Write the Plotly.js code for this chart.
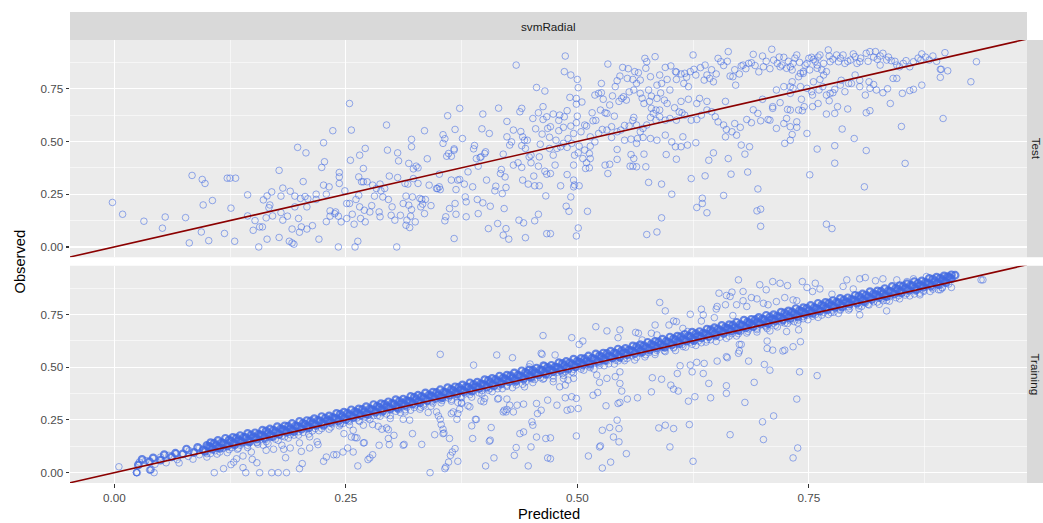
<!DOCTYPE html>
<html><head><meta charset="utf-8">
<script src="https://cdn.plot.ly/plotly-3.0.1.min.js"></script>
<style>html,body{margin:0;padding:0;background:#fff}#chart{width:1043px;height:523px}</style>
</head><body><div id="chart"></div>
<script>
// ---------- DATA ----------
const facetTitle = 'svmRadial';
const panelLabels = ['Test', 'Training'];
const xTitle = 'Predicted';
const yTitle = 'Observed';

// Test panel: predicted / observed
const testPred = [
-0.002,0.009,0.032,0.052,0.055,0.077,0.081,0.084,0.095,0.098,
0.094,0.096,0.102,0.106,0.119,0.122,0.125,0.131,0.126,0.130,
0.144,0.144,0.150,0.152,0.156,0.157,0.160,0.161,0.165,0.164,
0.165,0.168,0.167,0.170,0.171,0.178,0.178,0.180,0.180,0.182,
0.182,0.187,0.189,0.192,0.194,0.190,0.192,0.195,0.195,0.198,
0.199,0.200,0.202,0.204,0.207,0.206,0.208,0.208,0.201,0.209,
0.214,0.221,0.218,0.218,0.226,0.227,0.224,0.226,0.229,0.229,
0.232,0.233,0.233,0.236,0.238,0.239,0.242,0.243,0.243,0.243,
0.242,0.245,0.249,0.251,0.251,0.254,0.254,0.255,0.256,0.257,
0.259,0.260,0.261,0.263,0.264,0.265,0.264,0.265,0.266,0.267,
0.269,0.269,0.270,0.271,0.271,0.273,0.276,0.278,0.279,0.281,
0.283,0.286,0.287,0.287,0.288,0.290,0.292,0.294,0.295,0.296,
0.297,0.299,0.300,0.303,0.305,0.306,0.306,0.307,0.309,0.312,
0.314,0.315,0.315,0.316,0.317,0.318,0.318,0.319,0.320,0.321,
0.321,0.321,0.322,0.323,0.323,0.325,0.326,0.328,0.328,0.330,
0.331,0.332,0.333,0.335,0.335,0.336,0.338,0.340,0.342,0.348,
0.349,0.351,0.351,0.352,0.355,0.355,0.357,0.357,0.358,0.359,
0.360,0.361,0.362,0.364,0.364,0.367,0.367,0.368,0.367,0.368,
0.369,0.369,0.371,0.373,0.373,0.376,0.378,0.379,0.380,0.380,
0.382,0.387,0.388,0.389,0.391,0.393,0.392,0.393,0.395,0.396,
0.397,0.398,0.398,0.400,0.401,0.402,0.404,0.405,0.406,0.411,
0.412,0.414,0.415,0.417,0.418,0.419,0.420,0.421,0.422,0.423,
0.423,0.424,0.424,0.426,0.427,0.429,0.431,0.431,0.434,0.436,
0.437,0.438,0.439,0.440,0.440,0.441,0.441,0.442,0.443,0.444,
0.444,0.446,0.447,0.448,0.450,0.450,0.452,0.453,0.454,0.454,
0.456,0.458,0.458,0.458,0.459,0.459,0.460,0.462,0.463,0.463,
0.465,0.465,0.466,0.467,0.467,0.467,0.468,0.470,
0.487,0.486,0.493,0.500,0.501,0.492,0.499,0.499,0.505,0.489,
0.486,0.474,0.481,0.471,0.477,0.490,0.493,0.499,0.504,0.508,
0.510,0.516,0.517,0.519,0.523,0.526,0.526,0.530,0.532,0.533,
0.535,0.537,0.541,0.543,0.549,0.555,0.550,0.548,0.553,0.560,
0.564,0.566,0.561,0.568,0.572,0.577,0.574,0.575,0.584,0.580,
0.585,0.589,0.573,0.579,0.586,0.591,0.595,0.597,0.607,0.607,
0.612,0.616,0.622,0.626,0.625,0.638,0.637,0.640,0.643,0.647,
0.652,0.655,0.663,0.665,0.668,0.671,0.677,0.679,0.685,0.688,
0.690,0.700,0.701,0.710,0.712,0.719,0.721,0.723,0.726,0.730,
0.730,0.723,0.715,0.711,0.719,0.727,0.708,0.715,0.723,0.726,
0.695,0.698,0.688,0.683,0.676,0.670,0.667,0.660,0.661,0.658,
0.652,0.649,0.645,0.640,0.634,0.629,0.623,0.616,0.613,0.607,
0.600,0.595,0.589,0.582,0.579,0.575,0.571,0.568,0.564,0.561,
0.556,0.551,0.547,0.543,0.537,0.532,0.527,0.523,0.519,0.514,
0.513,0.514,0.510,0.509,0.513,0.506,0.501,0.497,0.496,0.494,
0.489,0.485,0.482,0.478,0.474,0.476,0.471,0.489,0.496,0.497,
0.502,0.496,0.482,0.493,0.488,0.491,0.511,0.501,0.499,0.471,
0.533,0.530,0.535,0.543,0.543,0.551,0.558,0.564,0.558,0.560,
0.557,0.561,0.572,0.574,0.577,0.591,0.596,0.602,0.591,0.575,
0.586,0.564,0.565,0.571,0.579,0.586,0.595,0.602,0.606,0.612,
0.614,0.607,0.619,0.623,0.628,0.629,0.635,0.635,0.638,0.640,
0.642,0.647,0.658,0.663,0.666,0.672,0.677,0.681,0.684,0.686,
0.695,0.694,0.698,0.698,0.706,0.711,0.730,0.730,0.724,0.632,
0.629,0.620,0.615,0.600,0.594,0.586,0.580,0.589,0.601,0.606,
0.568,0.562,0.554,0.546,0.525,0.514,0.508,0.502,0.496,0.485,
0.480,
0.737,0.733,0.732,0.741,0.744,0.746,0.750,0.753,0.755,0.759,
0.762,0.764,0.769,0.771,0.772,0.773,0.780,0.782,0.787,0.789,
0.795,0.800,0.802,0.805,0.812,0.816,0.822,0.824,0.827,0.830,
0.834,0.839,0.845,0.848,0.855,0.859,0.863,0.871,0.872,0.880,
0.884,0.897,0.931,0.892,0.900,0.893,0.892,0.925,0.872,0.863,
0.859,0.851,0.845,0.841,0.838,0.830,0.823,0.816,0.815,0.811,
0.805,0.800,0.796,0.793,0.789,0.784,0.778,0.776,0.773,0.769,
0.761,0.753,0.748,0.741,0.733,0.730,0.732,0.739,0.744,0.755,
0.762,0.766,0.759,0.751,0.730,0.739,0.745,0.743,0.754,0.760,
0.769,0.772,0.778,0.781,0.792,0.812,0.816,0.737,0.737,0.732,
0.748,0.786,0.799,0.850,0.895,0.759,0.778,0.812,0.778,0.854,
0.751,0.810,0.769,0.775,
0.528,0.538,0.545,0.556,0.570,0.578,0.590,0.597,0.605,0.612,
0.618,0.628,0.633,0.645,0.650,0.658,0.662,0.670,0.675,0.682,
0.692,0.696,0.704,0.708,0.716,0.718,0.728,0.735,0.740,0.748,
0.757,0.760,0.766,0.776,0.784,0.792,0.798,0.806,0.814,0.820,
0.827,0.836,0.843,0.852,0.868,0.876,0.888,0.765,0.785,0.805,
0.820,0.835,0.754,0.742,0.700,0.690,0.660,0.640,0.620,0.610,
0.585,0.560,0.540,0.520,0.500,0.480,0.470,0.455,0.440,0.420
];
const testObs = [
0.211,0.155,0.122,0.089,0.142,0.139,0.019,0.339,0.320,0.301,
0.071,0.199,0.030,0.220,0.064,0.326,0.326,0.326,0.184,0.027,
0.247,0.147,0.079,0.125,0.000,0.095,0.095,0.223,0.242,0.138,
0.037,0.199,0.186,0.261,0.147,0.363,0.045,0.241,0.163,0.279,
0.127,0.146,0.027,0.019,0.013,0.264,0.085,0.241,0.190,0.472,
0.135,0.070,0.095,0.310,0.446,0.239,0.190,0.085,0.230,0.228,
0.101,0.037,0.250,0.225,0.494,0.404,0.377,0.293,0.250,0.120,
0.285,0.171,0.146,0.551,0.158,0.166,0.146,0.332,0.353,0.301,
0.000,0.119,0.266,0.135,0.206,0.680,0.206,0.411,0.554,0.155,
0.108,0.000,0.225,0.027,0.332,0.435,0.245,0.190,0.135,0.309,
0.372,0.309,0.174,0.119,0.467,0.309,0.166,0.196,0.293,0.241,
0.277,0.166,0.143,0.298,0.266,0.237,0.277,0.578,0.459,0.225,
0.336,0.150,0.190,0.127,0.000,0.329,0.446,0.408,0.150,0.206,
0.301,0.241,0.103,0.127,0.298,0.396,0.198,0.092,0.146,0.510,
0.475,0.177,0.237,0.370,0.324,0.119,0.383,0.375,0.301,0.230,
0.190,0.225,0.203,0.158,0.551,0.225,0.418,0.293,0.196,0.277,
0.277,0.345,0.285,0.272,0.532,0.491,0.513,0.124,0.143,0.430,
0.622,0.443,0.182,0.317,0.430,0.459,0.465,0.557,0.040,0.206,
0.155,0.272,0.317,0.657,0.320,0.514,0.298,0.237,0.214,0.143,
0.356,0.285,0.465,0.481,0.419,0.383,0.225,0.158,0.424,0.427,
0.560,0.630,0.209,0.443,0.451,0.317,0.087,0.538,0.193,0.266,
0.288,0.111,0.658,0.348,0.367,0.253,0.056,0.182,0.332,0.282,
0.087,0.595,0.522,0.037,0.483,0.498,0.554,0.388,0.862,0.399,
0.127,0.641,0.547,0.657,0.377,0.317,0.522,0.114,0.506,0.467,
0.044,0.506,0.298,0.427,0.399,0.435,0.609,0.336,0.290,0.124,
0.756,0.383,0.155,0.636,0.290,0.427,0.487,0.535,0.604,0.665,
0.739,0.359,0.242,0.617,0.345,0.063,0.562,0.467,
0.905,0.831,0.815,0.794,0.755,0.709,0.704,0.677,0.687,0.646,
0.617,0.630,0.625,0.570,0.506,0.514,0.573,0.589,0.546,0.578,
0.573,0.636,0.598,0.720,0.728,0.731,0.775,0.636,0.633,0.867,
0.673,0.570,0.760,0.788,0.851,0.845,0.712,0.704,0.696,0.794,
0.775,0.826,0.744,0.728,0.680,0.744,0.847,0.878,0.902,0.657,
0.649,0.617,0.894,0.807,0.767,0.775,0.851,0.794,0.829,0.794,
0.820,0.823,0.831,0.842,0.910,0.862,0.791,0.815,0.799,0.783,
0.894,0.878,0.926,0.810,0.807,0.767,0.858,0.862,0.870,0.873,
0.913,0.905,0.854,0.937,0.886,0.854,0.862,0.899,0.847,0.854,
0.760,0.760,0.744,0.657,0.684,0.652,0.601,0.562,0.585,0.609,
0.633,0.598,0.589,0.604,0.567,0.585,0.546,0.522,0.557,0.578,
0.593,0.617,0.641,0.649,0.625,0.604,0.601,0.625,0.636,0.601,
0.609,0.601,0.649,0.633,0.614,0.578,0.562,0.546,0.578,0.614,
0.573,0.576,0.554,0.546,0.519,0.554,0.557,0.538,0.498,0.478,
0.443,0.419,0.399,0.372,0.375,0.419,0.446,0.435,0.388,0.491,
0.472,0.491,0.475,0.467,0.435,0.388,0.348,0.343,0.317,0.294,
0.290,0.285,0.290,0.237,0.193,0.169,0.169,0.090,0.052,0.063,
0.348,0.388,0.392,0.415,0.462,0.506,0.511,0.491,0.438,0.383,
0.383,0.419,0.440,0.380,0.306,0.298,0.438,0.250,0.138,0.059,
0.071,0.380,0.514,0.519,0.514,0.506,0.530,0.498,0.475,0.475,
0.522,0.416,0.483,0.324,0.494,0.187,0.206,0.231,0.337,0.162,
0.411,0.446,0.244,0.419,0.345,0.530,0.483,0.440,0.355,0.475,
0.275,0.171,0.179,0.098,0.604,0.665,0.570,0.506,0.491,0.704,
0.680,0.760,0.775,0.744,0.696,0.704,0.715,0.815,0.858,0.831,
0.791,0.831,0.799,0.810,0.649,0.522,0.459,0.478,0.538,0.567,
0.551,
0.910,0.870,0.839,0.823,0.831,0.862,0.894,0.899,0.889,0.862,
0.910,0.839,0.831,0.934,0.905,0.878,0.910,0.878,0.910,0.870,
0.886,0.902,0.870,0.878,0.918,0.926,0.926,0.889,0.862,0.918,
0.886,0.883,0.862,0.854,0.883,0.854,0.878,0.886,0.915,0.886,
0.905,0.921,0.878,0.842,0.835,0.842,0.804,0.783,0.767,0.747,
0.741,0.728,0.799,0.799,0.680,0.731,0.744,0.752,0.783,0.720,
0.760,0.815,0.775,0.775,0.736,0.767,0.747,0.731,0.728,0.720,
0.744,0.736,0.752,0.760,0.752,0.728,0.783,0.807,0.823,0.783,
0.794,0.815,0.847,0.839,0.649,0.649,0.665,0.646,0.665,0.680,
0.630,0.693,0.633,0.665,0.654,0.636,0.646,0.593,0.567,0.533,
0.538,0.559,0.514,0.571,0.609,0.464,0.480,0.457,0.397,0.396,
0.342,0.285,0.108,0.087,
0.700,0.716,0.690,0.735,0.705,0.690,0.730,0.680,0.660,0.690,
0.805,0.815,0.850,0.840,0.820,0.860,0.880,0.840,0.820,0.845,
0.860,0.830,0.880,0.845,0.870,0.900,0.880,0.895,0.875,0.870,
0.880,0.900,0.870,0.890,0.895,0.880,0.915,0.895,0.880,0.900,
0.905,0.900,0.880,0.870,0.895,0.900,0.880,0.760,0.790,0.790,
0.770,0.750,0.720,0.700,0.700,0.650,0.690,0.690,0.700,0.640,
0.600,0.600,0.620,0.600,0.620,0.600,0.520,0.560,0.480,0.440
];

// Training panel: heavily over-plotted band just above / on the diagonal (layers A, B, E, F, G)
const bandAPred = [
0.030,0.042,0.054,0.066,0.078,0.090,0.100,0.108,0.116,0.124,
0.132,0.140,0.148,0.156,0.164,0.172,0.180,0.188,0.196,0.204,
0.212,0.220,0.228,0.236,0.244,0.252,0.260,0.268,0.276,0.284,
0.292,0.300,0.308,0.316,0.324,0.332,0.340,0.348,0.356,0.364,
0.372,0.380,0.388,0.396,0.404,0.412,0.420,0.428,0.436,0.444,
0.452,0.460,0.468,0.476,0.484,0.492,0.500,0.508,0.516,0.524,
0.532,0.540,0.548,0.556,0.564,0.572,0.580,0.588,0.596,0.604,
0.612,0.620,0.628,0.636,0.644,0.652,0.660,0.668,0.676,0.684,
0.692,0.700,0.708,0.716,0.724,0.732,0.740,0.748,0.756,0.764,
0.772,0.780,0.788,0.796,0.804,0.812,0.820,0.828,0.836,0.844,
0.852,0.860,0.868,0.876,0.884,0.892,0.900,0.908];
const bandAObs = [
0.063,0.070,0.085,0.092,0.112,0.120,0.129,0.140,0.143,0.155,
0.165,0.168,0.179,0.182,0.198,0.202,0.209,0.220,0.223,0.235,
0.245,0.248,0.259,0.262,0.278,0.282,0.289,0.300,0.303,0.315,
0.325,0.328,0.339,0.342,0.358,0.362,0.369,0.380,0.383,0.395,
0.405,0.408,0.419,0.422,0.438,0.442,0.449,0.460,0.463,0.475,
0.485,0.488,0.499,0.502,0.518,0.522,0.529,0.540,0.543,0.555,
0.565,0.568,0.579,0.582,0.598,0.602,0.609,0.620,0.623,0.635,
0.645,0.648,0.659,0.662,0.678,0.682,0.689,0.700,0.703,0.715,
0.725,0.728,0.739,0.742,0.758,0.762,0.769,0.780,0.783,0.795,
0.805,0.808,0.819,0.822,0.838,0.842,0.849,0.860,0.863,0.875,
0.885,0.888,0.899,0.902,0.918,0.922,0.929,0.936];
const bandBPred = [
0.026,0.038,0.050,0.062,0.074,0.086,0.096,0.104,0.112,0.120,
0.128,0.136,0.144,0.152,0.160,0.168,0.176,0.184,0.192,0.200,
0.208,0.216,0.224,0.232,0.240,0.248,0.256,0.264,0.272,0.280,
0.288,0.296,0.304,0.312,0.320,0.328,0.336,0.344,0.352,0.360,
0.368,0.376,0.384,0.392,0.400,0.408,0.416,0.424,0.432,0.440,
0.448,0.456,0.464,0.472,0.480,0.488,0.496,0.504,0.512,0.520,
0.528,0.536,0.544,0.552,0.560,0.568,0.576,0.584,0.592,0.600,
0.608,0.616,0.624,0.632,0.640,0.648,0.656,0.664,0.672,0.680,
0.688,0.696,0.704,0.712,0.720,0.728,0.736,0.744,0.752,0.760,
0.768,0.776,0.784,0.792,0.800,0.808,0.816,0.824,0.832,0.840,
0.848,0.856,0.864,0.872,0.880,0.888,0.896,0.904];
const bandBObs = [
0.037,0.052,0.059,0.075,0.089,0.096,0.108,0.120,0.120,0.133,
0.139,0.150,0.153,0.167,0.175,0.178,0.188,0.200,0.200,0.213,
0.219,0.230,0.233,0.247,0.255,0.258,0.268,0.280,0.280,0.293,
0.299,0.310,0.313,0.327,0.335,0.338,0.348,0.360,0.360,0.373,
0.379,0.390,0.393,0.407,0.415,0.418,0.428,0.440,0.440,0.453,
0.459,0.470,0.473,0.487,0.495,0.498,0.508,0.520,0.520,0.533,
0.539,0.550,0.553,0.567,0.575,0.578,0.588,0.600,0.600,0.613,
0.619,0.630,0.633,0.647,0.655,0.658,0.668,0.680,0.680,0.693,
0.699,0.710,0.713,0.727,0.735,0.738,0.748,0.760,0.760,0.773,
0.779,0.790,0.793,0.807,0.815,0.818,0.828,0.840,0.840,0.853,
0.859,0.870,0.873,0.887,0.895,0.898,0.908,0.920];
const bandEPred = [
0.104,0.112,0.120,0.128,0.136,0.144,0.152,0.160,0.168,0.176,
0.184,0.192,0.200,0.208,0.216,0.224,0.232,0.240,0.248,0.256,
0.264,0.272,0.280,0.288,0.296,0.304,0.312,0.320,0.328,0.336,
0.344,0.352,0.360,0.368,0.376,0.384,0.392,0.400,0.408,0.416,
0.424,0.432,0.440,0.448,0.456,0.464,0.472,0.480,0.488,0.496,
0.504,0.512,0.520,0.528,0.536,0.544,0.552,0.560,0.568,0.576,
0.584,0.592,0.600,0.608,0.616,0.624,0.632,0.640,0.648,0.656,
0.664,0.672,0.680,0.688,0.696,0.704,0.712,0.720,0.728,0.736,
0.744,0.752,0.760,0.768,0.776,0.784,0.792,0.800,0.808,0.816,
0.824,0.832,0.840,0.848,0.856,0.864,0.872,0.880,0.888,0.896,
0.904];
const bandEObs = [
0.142,0.153,0.163,0.167,0.176,0.186,0.189,0.201,0.207,0.218,
0.222,0.233,0.243,0.247,0.256,0.266,0.269,0.281,0.287,0.298,
0.302,0.313,0.323,0.327,0.336,0.346,0.349,0.361,0.367,0.378,
0.382,0.393,0.403,0.407,0.416,0.426,0.429,0.441,0.447,0.458,
0.462,0.473,0.483,0.487,0.496,0.506,0.509,0.521,0.527,0.538,
0.542,0.553,0.563,0.567,0.576,0.586,0.589,0.601,0.607,0.618,
0.622,0.633,0.643,0.647,0.656,0.666,0.669,0.681,0.687,0.698,
0.702,0.713,0.723,0.727,0.736,0.746,0.749,0.761,0.767,0.778,
0.782,0.793,0.803,0.807,0.816,0.826,0.829,0.841,0.847,0.858,
0.862,0.873,0.883,0.887,0.896,0.906,0.909,0.921,0.927,0.933,
0.938];
const bandFPred = [
0.102,0.110,0.118,0.126,0.134,0.142,0.150,0.158,0.166,0.174,
0.182,0.190,0.198,0.206,0.214,0.222,0.230,0.238,0.246,0.254,
0.262,0.270,0.278,0.286,0.294,0.302,0.310,0.318,0.326,0.334,
0.342,0.350,0.358,0.366,0.374,0.382,0.390,0.398,0.406,0.414,
0.422,0.430,0.438,0.446,0.454,0.462,0.470,0.478,0.486,0.494,
0.502,0.510,0.518,0.526,0.534,0.542,0.550,0.558,0.566,0.574,
0.582,0.590,0.598,0.606,0.614,0.622,0.630,0.638,0.646,0.654,
0.662,0.670,0.678,0.686,0.694,0.702,0.710,0.718,0.726,0.734,
0.742,0.750,0.758,0.766,0.774,0.782,0.790,0.798,0.806,0.814,
0.822,0.830,0.838,0.846,0.854,0.862,0.870,0.878,0.886,0.894,
0.902];
const bandFObs = [
0.124,0.129,0.139,0.149,0.154,0.166,0.168,0.179,0.188,0.194,
0.204,0.209,0.219,0.229,0.234,0.246,0.248,0.259,0.268,0.274,
0.284,0.289,0.299,0.309,0.314,0.326,0.328,0.339,0.348,0.354,
0.364,0.369,0.379,0.389,0.394,0.406,0.408,0.419,0.428,0.434,
0.444,0.449,0.459,0.469,0.474,0.486,0.488,0.499,0.508,0.514,
0.524,0.529,0.539,0.549,0.554,0.566,0.568,0.579,0.588,0.594,
0.604,0.609,0.619,0.629,0.634,0.646,0.648,0.659,0.668,0.674,
0.684,0.689,0.699,0.709,0.714,0.726,0.728,0.739,0.748,0.754,
0.764,0.769,0.779,0.789,0.794,0.806,0.808,0.819,0.828,0.834,
0.844,0.849,0.859,0.869,0.874,0.886,0.888,0.899,0.908,0.914,
0.924];
const bandGPred = [
0.098,0.106,0.114,0.122,0.130,0.138,0.146,0.154,0.162,0.170,
0.178,0.186,0.194,0.202,0.210,0.218,0.226,0.234,0.242,0.250,
0.258,0.266,0.274,0.282,0.290,0.298,0.306,0.314,0.322,0.330,
0.338,0.346,0.354,0.362,0.370,0.378,0.386,0.394,0.402,0.410,
0.418,0.426,0.434,0.442,0.450,0.458,0.466,0.474,0.482,0.490,
0.498,0.506,0.514,0.522,0.530,0.538,0.546,0.554,0.562,0.570,
0.578,0.586,0.594,0.602,0.610,0.618,0.626,0.634,0.642,0.650,
0.658,0.666,0.674,0.682,0.690,0.698,0.706,0.714,0.722,0.730,
0.738,0.746,0.754,0.762,0.770,0.778,0.786,0.794,0.802,0.810,
0.818,0.826,0.834,0.842,0.850,0.858,0.866,0.874,0.882,0.890,
0.898];
const bandGObs = [
0.101,0.111,0.115,0.126,0.132,0.144,0.146,0.159,0.165,0.171,
0.181,0.191,0.195,0.206,0.212,0.224,0.226,0.239,0.245,0.251,
0.261,0.271,0.275,0.286,0.292,0.304,0.306,0.319,0.325,0.331,
0.341,0.351,0.355,0.366,0.372,0.384,0.386,0.399,0.405,0.411,
0.421,0.431,0.435,0.446,0.452,0.464,0.466,0.479,0.485,0.491,
0.501,0.511,0.515,0.526,0.532,0.544,0.546,0.559,0.565,0.571,
0.581,0.591,0.595,0.606,0.612,0.624,0.626,0.639,0.645,0.651,
0.661,0.671,0.675,0.686,0.692,0.704,0.706,0.719,0.725,0.731,
0.741,0.751,0.755,0.766,0.772,0.784,0.786,0.799,0.805,0.811,
0.821,0.831,0.835,0.846,0.852,0.864,0.866,0.879,0.885,0.891,
0.901];

// Training panel: lighter layers just below the diagonal (C, D, H)
const bandCPred = [
0.044,0.056,0.068,0.080,0.092,
0.100,0.109,0.118,0.127,0.136,0.145,0.154,0.163,0.172,0.181,
0.190,0.199,0.208,0.217,0.226,0.235,0.244,0.253,0.262,0.271,
0.280,0.289,0.298,0.307,0.316,0.325,0.334,0.343,0.352,0.361,
0.370,0.379,0.388,0.397,0.406,0.415,0.424,0.433,0.442,0.451,
0.460,0.469,0.478,0.487,0.496,0.505,0.514,0.523,0.532,0.541,
0.550,0.559,0.568,0.577,0.586,0.595,0.604,0.613,0.622,0.631,
0.640,0.649,0.658,0.667,0.676,0.685,0.694,0.703,0.712,0.721,
0.730,0.739,0.748,0.757,0.766,0.775,0.784,0.793,0.802,0.811,
0.820,0.829,0.838,0.847,0.856,0.865,0.874,0.883,0.892,0.901];
const bandCObs = [
0.040,0.047,0.062,0.077,0.085,
0.090,0.104,0.116,0.119,0.130,0.141,0.145,0.157,0.169,0.174,
0.180,0.194,0.206,0.209,0.220,0.231,0.235,0.247,0.259,0.264,
0.270,0.284,0.296,0.299,0.310,0.321,0.325,0.337,0.349,0.354,
0.360,0.374,0.386,0.389,0.400,0.411,0.415,0.427,0.439,0.444,
0.450,0.464,0.476,0.479,0.490,0.501,0.505,0.517,0.529,0.534,
0.540,0.554,0.566,0.569,0.580,0.591,0.595,0.607,0.619,0.624,
0.630,0.644,0.656,0.659,0.670,0.681,0.685,0.697,0.709,0.714,
0.720,0.734,0.746,0.749,0.760,0.771,0.775,0.787,0.799,0.804,
0.810,0.824,0.836,0.839,0.850,0.861,0.865,0.877,0.889,0.894];
const bandDPred = [
0.070,0.085,
0.100,0.111,0.122,0.133,0.144,0.155,0.166,0.177,0.188,0.199,
0.210,0.221,0.232,0.243,0.254,0.265,0.276,0.287,0.298,0.309,
0.320,0.331,0.342,0.353,0.364,0.375,0.386,0.397,0.408,0.419,
0.430,0.441,0.452,0.463,0.474,0.485,0.496,0.507,0.518,0.529,
0.540,0.551,0.562,0.573,0.584,0.595,0.606,0.617,0.628,0.639,
0.650,0.661,0.672,0.683,0.694,0.705,0.716,0.727,0.738,0.749,
0.760,0.771,0.782,0.793,0.804,0.815,0.826,0.837,0.848,0.859,
0.870,0.881,0.892];
const bandDObs = [
0.046,0.064,
0.074,0.088,0.095,0.111,0.119,0.135,0.138,0.153,0.164,0.178,
0.183,0.199,0.206,0.222,0.227,0.243,0.251,0.267,0.270,0.285,
0.296,0.310,0.315,0.331,0.339,0.355,0.358,0.373,0.384,0.398,
0.403,0.419,0.427,0.443,0.446,0.461,0.472,0.486,0.491,0.507,
0.515,0.531,0.534,0.549,0.560,0.574,0.579,0.595,0.603,0.619,
0.622,0.637,0.648,0.662,0.667,0.683,0.691,0.707,0.710,0.725,
0.736,0.750,0.755,0.771,0.779,0.795,0.798,0.813,0.824,0.838,
0.843,0.859,0.867];
const bandHPred = [
0.104,0.114,0.124,0.134,0.144,0.154,0.164,0.174,0.184,0.194,
0.204,0.214,0.224,0.234,0.244,0.254,0.264,0.274,0.284,0.294,
0.304,0.314,0.324,0.334,0.344,0.354,0.364,0.374,0.384,0.394,
0.404,0.414,0.424,0.434,0.444,0.454,0.464,0.474,0.484,0.494,
0.504,0.514,0.524,0.534,0.544,0.554,0.564,0.574,0.584,0.594,
0.604,0.614,0.624,0.634,0.644,0.654,0.664,0.674,0.684,0.694,
0.704,0.714,0.724,0.734,0.744,0.754,0.764,0.774,0.784,0.794,
0.804,0.814,0.824,0.834,0.844,0.854,0.864,0.874,0.884,0.894];
const bandHObs = [
0.091,0.098,0.109,0.116,0.130,0.142,0.147,0.159,0.170,0.178,
0.191,0.198,0.209,0.216,0.230,0.242,0.247,0.259,0.270,0.278,
0.291,0.298,0.309,0.316,0.330,0.342,0.347,0.359,0.370,0.378,
0.391,0.398,0.409,0.416,0.430,0.442,0.447,0.459,0.470,0.478,
0.491,0.498,0.509,0.516,0.530,0.542,0.547,0.559,0.570,0.578,
0.591,0.598,0.609,0.616,0.630,0.642,0.647,0.659,0.670,0.678,
0.691,0.698,0.709,0.716,0.730,0.742,0.747,0.759,0.770,0.778,
0.791,0.798,0.809,0.816,0.830,0.842,0.847,0.859,0.870,0.878];

// Training panel: points away from the band
const trainOffPred = [
0.005,0.024,0.024,0.024,0.025,0.039,0.038,0.040,0.027,0.034,
0.039,0.043,0.050,0.059,0.067,0.081,0.092,0.103,0.108,0.118,
0.126,0.129,0.139,0.142,0.149,0.154,0.157,0.170,0.177,0.186,
0.172,0.183,0.185,0.200,0.203,0.200,0.211,0.220,0.226,0.229,
0.237,0.240,0.247,0.252,0.258,0.263,0.270,0.260,0.262,0.248,
0.279,0.289,0.296,0.296,0.297,0.302,0.286,0.276,0.279,0.274,
0.312,0.322,0.332,0.341,0.346,0.350,0.352,0.353,0.355,0.352,
0.355,0.358,0.361,0.363,0.365,0.368,0.362,0.364,0.366,0.371,
0.370,0.371,0.388,0.386,0.387,0.390,0.399,0.401,0.405,0.407,
0.410,0.413,0.414,0.421,0.423,0.424,0.430,0.432,0.434,0.438,
0.442,0.447,0.450,0.451,0.452,0.457,0.461,0.462,0.463,0.449,
0.448,0.463,0.466,0.468,0.468,0.435,0.431,0.427,0.420,0.415,
0.400,0.396,0.382,0.373,0.375,0.348,0.339,0.330,0.319,0.312,
0.314,0.298,0.294,0.285,0.269,0.258,0.247,0.219,0.211,0.202,
0.190,0.181,0.164,0.161,0.139,0.148,0.132,0.456,0.456,0.443,
0.442,0.424,0.406,0.391,0.384,0.375,0.371,0.357,0.356,0.313,
0.269,0.256,0.461,
0.674,0.711,0.719,0.727,0.697,0.704,0.679,0.653,0.667,0.665,
0.688,0.694,0.679,0.672,0.661,0.651,0.636,0.634,0.622,0.648,
0.650,0.660,0.668,0.683,0.701,0.706,0.715,0.724,0.733,0.737,
0.743,0.757,0.748,0.754,0.762,0.775,0.791,0.805,0.811,0.787,
0.798,0.822,0.830,0.845,0.856,0.863,0.877,0.895,0.901,0.604,
0.599,0.607,0.584,0.589,0.595,0.580,0.586,0.570,0.563,0.566,
0.546,0.544,0.532,0.520,0.506,0.502,0.494,0.476,0.614,0.619,
0.634,0.936,0.938,
0.471,0.471,0.478,0.487,0.489,0.493,0.501,0.494,0.499,0.487,
0.481,0.474,0.490,0.496,0.485,0.499,0.512,0.525,0.524,0.527,
0.535,0.539,0.543,0.545,0.545,0.527,0.536,0.553,0.531,0.544,
0.546,0.554,0.565,0.517,0.522,0.548,0.546,0.524,0.532,0.541,
0.546,0.521,0.580,0.581,0.591,0.588,0.595,0.600,0.604,0.601,
0.604,0.609,0.608,0.620,0.621,0.625,0.627,0.636,0.642,0.644,
0.661,0.661,0.665,0.681,0.691,0.700,0.701,0.702,0.708,0.712,
0.733,0.738,0.737,0.740,0.759,0.685,0.624,0.622,0.611,0.629,
0.637,0.651,0.661,0.674,0.675,0.662,0.675,0.677,0.705,0.705,
0.711,0.722,0.724,0.733,0.741,0.726,0.739,0.708,0.686,0.694,
0.708,0.722,0.739,0.744,0.758,0.777,0.805,0.834,0.807,0.830,
0.870,0.890,0.894,0.904
];
const trainOffObs = [
0.028,0.000,0.000,0.001,0.000,0.014,0.013,0.015,0.050,0.057,
0.011,0.000,0.074,0.082,0.090,0.104,0.117,0.123,0.000,0.019,
0.038,0.050,0.024,0.000,0.063,0.047,0.000,0.000,0.000,0.000,
0.111,0.111,0.071,0.019,0.043,0.141,0.117,0.133,0.054,0.074,
0.085,0.085,0.098,0.117,0.098,0.032,0.142,0.166,0.165,0.185,
0.228,0.206,0.204,0.162,0.133,0.177,0.130,0.070,0.085,0.062,
0.130,0.185,0.134,0.000,0.180,0.269,0.253,0.228,0.206,0.561,
0.185,0.027,0.050,0.082,0.098,0.114,0.162,0.280,0.288,0.054,
0.253,0.333,0.510,0.222,0.162,0.253,0.336,0.032,0.149,0.214,
0.070,0.558,0.349,0.296,0.288,0.349,0.545,0.082,0.119,0.185,
0.193,0.032,0.122,0.241,0.225,0.280,0.296,0.561,0.650,0.515,
0.502,0.510,0.162,0.070,0.344,0.320,0.288,0.320,0.288,0.352,
0.352,0.340,0.317,0.301,0.333,0.288,0.285,0.301,0.249,0.253,
0.288,0.257,0.212,0.220,0.225,0.201,0.233,0.146,0.170,0.101,
0.117,0.130,0.106,0.130,0.079,0.098,0.066,0.169,0.328,0.407,
0.325,0.300,0.154,0.252,0.312,0.328,0.280,0.019,0.188,0.134,
0.141,0.169,0.566,
0.914,0.906,0.898,0.887,0.891,0.867,0.859,0.851,0.856,0.835,
0.830,0.824,0.815,0.796,0.840,0.788,0.748,0.775,0.751,0.735,
0.776,0.796,0.745,0.788,0.803,0.796,0.811,0.830,0.819,0.815,
0.906,0.898,0.878,0.859,0.871,0.846,0.914,0.919,0.925,0.883,
0.871,0.910,0.919,0.914,0.906,0.919,0.930,0.922,0.930,0.719,
0.700,0.716,0.700,0.807,0.767,0.661,0.653,0.629,0.665,0.661,
0.677,0.640,0.672,0.692,0.624,0.608,0.640,0.558,0.684,0.669,
0.719,0.914,0.914,
0.165,0.066,0.320,0.355,0.296,0.301,0.304,0.360,0.352,0.415,
0.407,0.431,0.439,0.447,0.447,0.174,0.079,0.127,0.122,0.201,
0.214,0.169,0.249,0.209,0.146,0.022,0.050,0.090,0.317,0.328,
0.333,0.349,0.355,0.367,0.380,0.387,0.423,0.428,0.447,0.455,
0.478,0.463,0.383,0.450,0.443,0.212,0.225,0.122,0.209,0.415,
0.396,0.387,0.470,0.339,0.228,0.054,0.360,0.470,0.423,0.355,
0.412,0.376,0.180,0.333,0.428,0.241,0.157,0.513,0.486,0.269,
0.070,0.117,0.349,0.478,0.460,0.529,0.478,0.510,0.507,0.523,
0.518,0.529,0.550,0.566,0.577,0.545,0.608,0.608,0.624,0.589,
0.581,0.577,0.581,0.597,0.621,0.669,0.677,0.672,0.708,0.732,
0.719,0.719,0.724,0.740,0.764,0.761,0.748,0.767,0.788,0.815,
0.851,0.867,0.875,0.878
];

const tickStep = 0.25;
const xRange = [-0.0478, 0.9856];
const yRange = [-0.049, 0.981];

// ---------- BUILD ----------
const densePred = [].concat(bandAPred, bandBPred, bandEPred, bandFPred, bandGPred);
const denseObs  = [].concat(bandAObs, bandBObs, bandEObs, bandFObs, bandGObs);
const lightPred = [].concat(bandCPred, bandDPred, bandHPred, trainOffPred);
const lightObs  = [].concat(bandCObs, bandDObs, bandHObs, trainOffObs);
const refLine = [xRange[0] - 0.1, xRange[1] + 0.1];

const FONT = 'Liberation Sans, Arial, Helvetica, sans-serif';
const pointColor = 'rgba(65,105,225,0.55)';
const marker = {symbol: 'circle-open', size: 6.6, color: pointColor, line: {width: 1, color: pointColor}};
// the band is drawn heavier to stand in for the thousands of over-plotted rings of the original
const denseColor = 'rgba(65,105,225,0.8)';
const denseMarker = {symbol: 'circle-open', size: 6.6, color: denseColor, line: {width: 2.2, color: denseColor}};

const traces = [
  {type: 'scatter', mode: 'markers', x: testPred, y: testObs, xaxis: 'x2', yaxis: 'y', marker: marker, hoverinfo: 'skip'},
  {type: 'scatter', mode: 'markers', x: lightPred, y: lightObs, xaxis: 'x', yaxis: 'y2', marker: marker, hoverinfo: 'skip'},
  {type: 'scatter', mode: 'markers', x: densePred, y: denseObs, xaxis: 'x', yaxis: 'y2', marker: denseMarker, hoverinfo: 'skip'},
  {type: 'scatter', mode: 'lines', x: refLine, y: refLine, xaxis: 'x2', yaxis: 'y', line: {color: '#8B0000', width: 1.6}, hoverinfo: 'skip'},
  {type: 'scatter', mode: 'lines', x: refLine, y: refLine, xaxis: 'x', yaxis: 'y2', line: {color: '#8B0000', width: 1.6}, hoverinfo: 'skip'}
];

const tickFont = {family: FONT, size: 11.7, color: '#4D4D4D'};
const minor = {dtick: tickStep / 2, tick0: 0, showgrid: true, gridcolor: '#FFFFFF', gridwidth: 0.55, ticks: ''};
function axis(extra) {
  return Object.assign({
    tick0: 0, dtick: tickStep, tickformat: '.2f',
    showgrid: true, gridcolor: '#FFFFFF', gridwidth: 1.1,
    zeroline: false, showline: false, automargin: false,
    ticks: 'outside', ticklen: 3.5, tickwidth: 1.1, tickcolor: '#333333',
    tickfont: tickFont, minor: minor, fixedrange: true
  }, extra);
}

const topDom = [0.5095, 1];
const botDom = [0, 0.4904];
const W = 957, H = 443;

const layout = {
  width: 1043, height: 523,
  margin: {l: 70, r: 16, t: 40, b: 40, pad: 0},
  paper_bgcolor: '#FFFFFF', plot_bgcolor: '#EBEBEB',
  showlegend: false, hovermode: false,
  font: {family: FONT},
  xaxis: axis({range: xRange, anchor: 'y2', domain: [0, 1]}),
  xaxis2: axis({range: xRange, anchor: 'y', domain: [0, 1], showticklabels: false, ticks: ''}),
  yaxis: axis({range: yRange, anchor: 'x2', domain: topDom}),
  yaxis2: axis({range: yRange, anchor: 'x', domain: botDom}),
  shapes: [
    {type: 'rect', xref: 'paper', yref: 'paper', x0: 0, x1: 1, y0: 1, y1: 1 + 28 / H, fillcolor: '#D9D9D9', line: {width: 0}},
    {type: 'rect', xref: 'paper', yref: 'paper', x0: 1, x1: 1 + 40 / W, y0: topDom[0], y1: topDom[1], fillcolor: '#D9D9D9', line: {width: 0}},
    {type: 'rect', xref: 'paper', yref: 'paper', x0: 1, x1: 1 + 40 / W, y0: botDom[0], y1: botDom[1], fillcolor: '#D9D9D9', line: {width: 0}}
  ],
  annotations: [
    {text: facetTitle, xref: 'paper', yref: 'paper', x: 0.5, y: 1 + 14 / H, xanchor: 'center', yanchor: 'middle', showarrow: false, font: {family: FONT, size: 11.7, color: '#1A1A1A'}},
    {text: panelLabels[0], xref: 'paper', yref: 'paper', x: 1 + 9 / W, y: (topDom[0] + topDom[1]) / 2, xanchor: 'center', yanchor: 'middle', textangle: 90, showarrow: false, font: {family: FONT, size: 11.7, color: '#1A1A1A'}},
    {text: panelLabels[1], xref: 'paper', yref: 'paper', x: 1 + 9 / W, y: (botDom[0] + botDom[1]) / 2, xanchor: 'center', yanchor: 'middle', textangle: 90, showarrow: false, font: {family: FONT, size: 11.7, color: '#1A1A1A'}},
    {text: yTitle, xref: 'paper', yref: 'paper', x: -51 / W, y: 0.5, xanchor: 'center', yanchor: 'middle', textangle: -90, showarrow: false, font: {family: FONT, size: 14.7, color: '#000000'}},
    {text: xTitle, xref: 'paper', yref: 'paper', x: 0.5, y: -31 / H, xanchor: 'center', yanchor: 'middle', showarrow: false, font: {family: FONT, size: 14.7, color: '#000000'}}
  ]
};

Plotly.newPlot('chart', traces, layout, {staticPlot: true, displayModeBar: false});
</script>
</body></html>
